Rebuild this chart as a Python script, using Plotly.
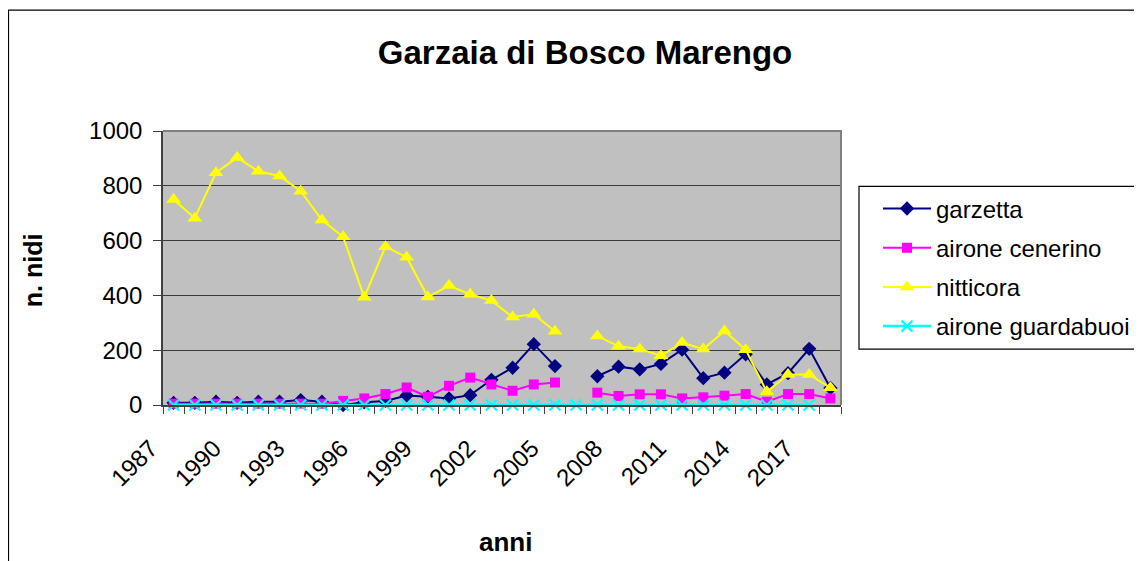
import plotly.graph_objects as go

years = list(range(1987, 2019))
garzetta = [8, 8, 12, 8, 12, 12, 18, 12, 0, 10, 15, 35, 30, 24, 36, 92,
            136, 222, 142, None, 105, 140, 130, 150, 202, 98, 118, 185, 75, 116, 205, 62]
airone_cenerino = [5, 5, 5, 5, 5, 5, 5, 5, 15, 24, 40, 64, 30, 70, 100, 75,
                   52, 75, 82, None, 45, 33, 39, 39, 24, 28, 34, 40, 12, 40, 40, 24]
nitticora = [750, 682, 848, 903, 853, 836, 780, 675, 614, 393, 578, 539, 394, 436, 404, 381,
             321, 331, 269, None, 252, 214, 204, 180, 228, 204, 270, 202, 48, 111, 111, 63]
airone_guardabuoi = [0] * 31 + [None]
tick_years = list(range(1987, 2018, 3))

FONT = "Liberation Sans, Arial, sans-serif"
OFF = 8  # default page body margin
W, H = 1142 - OFF, 561 - OFF
# target page coordinates of the plot area
PL, PR, PT, PB = 163, 841, 130.5, 405
L, R, T, B = PL - OFF, PR - OFF, PT - OFF, PB - OFF
pw, ph = R - L, B - T

def px(x):  # page x -> paper
    return (x - OFF - L) / pw

def py(y):  # page y -> paper
    return (B - (y - OFF)) / ph

fig = go.Figure()
fig.add_trace(go.Scatter(x=years, y=garzetta, name="garzetta", mode="lines+markers",
                         line=dict(color="#000080", width=2), cliponaxis=False,
                         marker=dict(symbol="diamond", size=11, color="#000080"),
                         legendgroup="a"))
fig.add_trace(go.Scatter(x=years, y=airone_cenerino, name="airone cenerino", mode="lines+markers",
                         line=dict(color="#FF00FF", width=2), cliponaxis=False,
                         marker=dict(symbol="square", size=10, color="#FF00FF"),
                         legendgroup="b"))
fig.add_trace(go.Scatter(x=years, y=nitticora, name="nitticora", mode="lines+markers",
                         line=dict(color="#FFFF00", width=2), cliponaxis=False,
                         marker=dict(symbol="triangle-up", size=13, color="#FFFF00"),
                         legendgroup="c"))
fig.add_trace(go.Scatter(x=years, y=airone_guardabuoi, name="airone guardabuoi", mode="lines+markers",
                         line=dict(color="#00FFFF", width=2.5), cliponaxis=False,
                         marker=dict(symbol="x-thin", size=11, line=dict(color="#00FFFF", width=2.2)),
                         legendgroup="d"))

shapes = [
    # outer chart border (left and top visible)
    dict(type="path", xref="paper", yref="paper",
         path=f"M {px(8.5)} {py(620)} L {px(8.5)} {py(9.5)} L {px(1200)} {py(9.5)}",
         line=dict(color="#000000", width=1.2)),
    # plot area frame top/right
    dict(type="path", xref="paper", yref="paper",
         path="M 0 1 L 1 1 L 1 0",
         line=dict(color="#808080", width=2)),
    # legend box (continues beyond right edge)
    dict(type="path", xref="paper", yref="paper",
         path=f"M {px(1200)} {py(186)} L {px(859)} {py(186)} L {px(859)} {py(349)} L {px(1200)} {py(349)}",
         line=dict(color="#000000", width=1.2)),
]

annotations = [
    dict(text="<b>anni</b>", xref="paper", yref="paper", x=px(505), y=py(542),
         showarrow=False, font=dict(family=FONT, size=26, color="#000"), xanchor="center", yanchor="middle"),
    dict(text="<b>n. nidi</b>", xref="paper", yref="paper", x=px(33), y=py(270), textangle=-90,
         showarrow=False, font=dict(family=FONT, size=25, color="#000"), xanchor="center", yanchor="middle"),
]

fig.update_layout(
    width=W, height=H,
    margin=dict(l=L, r=W - R, t=T, b=H - B, autoexpand=False),
    paper_bgcolor="white", plot_bgcolor="#C0C0C0",
    title=dict(text="<b>Garzaia di Bosco Marengo</b>", xref="container", yref="container",
               x=(585 - OFF) / W, y=1 - (52 - OFF) / H, xanchor="center", yanchor="middle",
               font=dict(family=FONT, size=33, color="#000")),
    font=dict(family=FONT, size=24, color="#000"),
    showlegend=True,
    legend=dict(x=px(878), y=py(186), xanchor="left", yanchor="top",
                bgcolor="rgba(0,0,0,0)", borderwidth=0, tracegroupgap=5,
                font=dict(family=FONT, size=24, color="#000"), itemwidth=48,
                traceorder="grouped"),
    shapes=shapes, annotations=annotations,
    xaxis=dict(range=[1986.5, 2018.5], tickmode="array", tickvals=tick_years,
               ticktext=[str(y) for y in tick_years], tickangle=-45, ticks="", showgrid=False,
               ticklabelstandoff=18, ticklabelshift=-23,
               zeroline=False, showline=True, linecolor="#404040", linewidth=1.5,
               tickfont=dict(family=FONT, size=24, color="#000"),
               minor=dict(tick0=1986.5, dtick=1, ticks="outside", ticklen=7, tickcolor="#404040", tickwidth=1.2,
                          showgrid=False)),
    yaxis=dict(range=[0, 1000], dtick=200, tick0=0, showgrid=True, gridcolor="#3a3a3a", gridwidth=1.2,
               zeroline=False, showline=True, linecolor="#404040", linewidth=1.5,
               ticks="outside", ticklen=8, tickcolor="#404040", tickwidth=1.2,
               ticklabelstandoff=6,
               tickfont=dict(family=FONT, size=24, color="#000")),
)

fig.write_html("out.html")
